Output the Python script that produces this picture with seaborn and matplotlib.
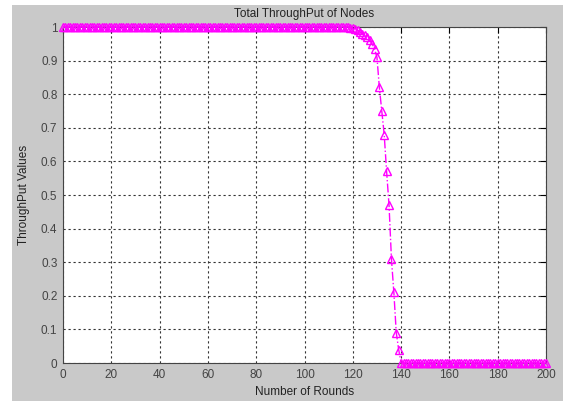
import matplotlib
matplotlib.use("Agg")
import matplotlib.pyplot as plt
import seaborn as sns
import pandas as pd
import numpy as np
from matplotlib.patches import Rectangle


rounds = list(range(0, 201))
plateau = [1.0] * 119
drop = [0.998, 0.996, 0.993, 0.99, 0.985, 0.98, 0.975, 0.97, 0.96, 0.95, 0.935,
        0.91, 0.82, 0.75, 0.68, 0.57, 0.47, 0.31, 0.21, 0.09, 0.04]
tail = [0.0] * 61
throughput = plateau + drop + tail

xticks = list(range(0, 201, 20))
yticks = [0, 0.1, 0.2, 0.3, 0.4, 0.5, 0.6, 0.7, 0.8, 0.9, 1]
ytick_labels = ["0", "0.1", "0.2", "0.3", "0.4", "0.5", "0.6", "0.7", "0.8", "0.9", "1"]


def main():

    sns.set_style("white")
    plt.rcParams["font.family"] = ["Liberation Sans", "DejaVu Sans"]
    plt.rcParams["font.size"] = 8

    df = pd.DataFrame({"round": rounds, "throughput": throughput})

    fig = plt.figure(figsize=(5.63, 4.01), dpi=100, facecolor="#c9c9c9")
    fig.patches.append(Rectangle((0, 0), 12 / 563, 1, transform=fig.transFigure,
                                 facecolor="white", edgecolor="none", zorder=0))
    fig.patches.append(Rectangle((0, 1 - 5 / 401), 1, 5 / 401, transform=fig.transFigure,
                                 facecolor="white", edgecolor="none", zorder=0))
    ax = fig.add_axes([63 / 563, 1 - 363 / 401, 483 / 563, 336 / 401])
    ax.set_facecolor("white")

    sns.lineplot(data=df, x="round", y="throughput", ax=ax, color="#ff00ff",
                 linestyle="-.", linewidth=1.0, marker="^", markersize=6,
                 markerfacecolor="none", markeredgecolor="#ff00ff",
                 markeredgewidth=1.0, clip_on=False, zorder=5)

    ax.set_xlim(0, 200)
    ax.set_ylim(0, 1)
    ax.set_xticks(xticks)
    ax.set_yticks(yticks)
    ax.set_yticklabels(ytick_labels)
    ax.grid(True, color="#333333", linestyle=(0, (2, 2.5)), linewidth=0.8)
    ax.tick_params(direction="in", top=True, right=True, length=4, color="black",
                   labelsize=8.5, labelcolor="#444444", pad=4)
    for side in ax.spines.values():
        side.set_color("#444444")
        side.set_linewidth(0.8)

    ax.set_title("Total ThroughPut of Nodes", fontsize=8.5, color="#222222", pad=7)
    ax.set_xlabel("Number of Rounds", fontsize=8.5, color="#222222", labelpad=4)
    ax.set_ylabel("ThroughPut Values", fontsize=8.5, color="#222222", labelpad=8)

    plt.savefig("out.png", dpi=100, facecolor=fig.get_facecolor())


if __name__ == "__main__":
    main()
